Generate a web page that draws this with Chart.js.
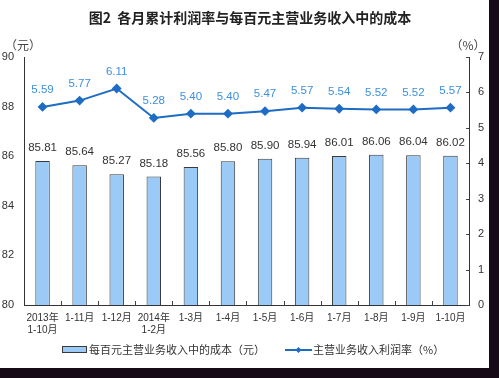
<!DOCTYPE html>
<html><head><meta charset="utf-8">
<script src="https://cdn.jsdelivr.net/npm/chart.js@4"></script>
<style>
html,body{margin:0;padding:0;background:#150a16;width:499px;height:378px;overflow:hidden}
#wrap{position:absolute;left:0;top:0;width:489px;height:368px;background:#fff}
</style></head><body>
<div id="wrap"><canvas id="c" width="489" height="368"></canvas></div>
<script>
const titleText = '图2  各月累计利润率与每百元主营业务收入中的成本';
const categories = [['2013年','1-10月'],'1-11月','1-12月',['2014年','1-2月'],'1-3月','1-4月','1-5月','1-6月','1-7月','1-8月','1-9月','1-10月'];
const costPerHundred = [85.81,85.64,85.27,85.18,85.56,85.80,85.90,85.94,86.01,86.06,86.04,86.02];
const profitRate = [5.59,5.77,6.11,5.28,5.40,5.40,5.47,5.57,5.54,5.52,5.52,5.57];
const costLabel = '每百元主营业务收入中的成本（元）';
const rateLabel = '主营业务收入利润率（%）';
const leftUnit = '（元）';
const rightUnit = '（%）';

const CJK = '"Liberation Sans","Noto Sans CJK SC",sans-serif';
const barFill = '#9ccaf7';
const barEdge = '#3a3a3a';
const lineColor = '#1e6cc4';
const rateTextColor = '#3d8fdc';

const extras = {
  id: 'extras',
  afterDatasetsDraw(chart) {
    const ctx = chart.ctx;
    ctx.save();
    ctx.textAlign = 'center';
    ctx.textBaseline = 'middle';
    ctx.font = '11.5px ' + CJK;
    ctx.fillStyle = '#333';
    chart.getDatasetMeta(1).data.forEach((el, i) => {
      ctx.fillText(costPerHundred[i].toFixed(2), el.x, el.y - 13);
    });
    ctx.fillStyle = rateTextColor;
    chart.getDatasetMeta(0).data.forEach((el, i) => {
      ctx.fillText(profitRate[i].toFixed(2), el.x, el.y - 17);
    });
    const xs = chart.scales.x, ca = chart.chartArea;
    ctx.strokeStyle = '#444'; ctx.lineWidth = 1;
    for (let i = 1; i < categories.length; i++) {
      const x = Math.round((xs.getPixelForValue(i - 1) + xs.getPixelForValue(i)) / 2) + 0.5;
      ctx.beginPath(); ctx.moveTo(x, ca.bottom); ctx.lineTo(x, ca.bottom - 4); ctx.stroke();
    }
    const yr = chart.scales.y1;
    yr.ticks.forEach(t => {
      const y = Math.round(yr.getPixelForValue(t.value)) + 0.5;
      ctx.beginPath(); ctx.moveTo(ca.right, y); ctx.lineTo(ca.right - 3, y); ctx.stroke();
    });
    ctx.restore();
  },
  afterDraw(chart) {
    const ctx = chart.ctx;
    ctx.save();
    ctx.fillStyle = '#222';
    ctx.textAlign = 'center'; ctx.textBaseline = 'middle';
    ctx.font = 'bold 14px "Noto Sans CJK SC",sans-serif';
    ctx.fillText(titleText, 250, 18);
    ctx.font = '12px "Noto Sans CJK SC",sans-serif';
    ctx.fillStyle = '#444';
    ctx.fillText(leftUnit, 23, 45);
    ctx.fillText(rightUnit, 468, 45);
    ctx.textAlign = 'left';
    ctx.font = '11px "Noto Sans CJK SC",sans-serif';
    ctx.fillStyle = barFill; ctx.fillRect(62, 347, 24, 5);
    ctx.strokeStyle = barEdge; ctx.lineWidth = 1; ctx.strokeRect(62.5, 346.5, 24, 6);
    ctx.fillStyle = '#333';
    ctx.fillText(costLabel, 89, 350);
    ctx.strokeStyle = lineColor; ctx.lineWidth = 2;
    ctx.beginPath(); ctx.moveTo(285, 350); ctx.lineTo(312, 350); ctx.stroke();
    ctx.fillStyle = lineColor;
    ctx.beginPath(); ctx.moveTo(298.5, 347); ctx.lineTo(301.5, 350); ctx.lineTo(298.5, 353); ctx.lineTo(295.5, 350); ctx.closePath(); ctx.fill();
    ctx.fillStyle = '#333';
    ctx.fillText(rateLabel, 313, 350);
    ctx.restore();
  }
};

new Chart(document.getElementById('c'), {
  data: {
    labels: categories,
    datasets: [
      { type: 'line', label: rateLabel, data: profitRate, yAxisID: 'y1', order: 0,
        borderColor: lineColor, backgroundColor: lineColor, borderWidth: 2,
        pointStyle: 'rectRot', pointRadius: 3.5, pointHoverRadius: 3.5, tension: 0 },
      { type: 'bar', label: costLabel, data: costPerHundred, yAxisID: 'y', order: 1,
        backgroundColor: barFill, borderColor: barEdge, borderWidth: 1,
        categoryPercentage: 1, barPercentage: 0.39 }
    ]
  },
  options: {
    responsive: false, animation: false, devicePixelRatio: 1,
    layout: { padding: { top: 57, left: 0, right: 0, bottom: 0 } },
    plugins: { legend: { display: false }, title: { display: false }, tooltip: { enabled: false } },
    scales: {
      x: {
        offset: true,
        grid: { display: false, drawTicks: false },
        border: { color: '#333', width: 1 },
        ticks: { color: '#333', font: { size: 10, family: CJK }, padding: 7, maxRotation: 0, autoSkip: false },
        afterFit(s) { s.height = 63; }
      },
      y: {
        position: 'left', min: 80, max: 90,
        grid: { display: false, drawTicks: false },
        border: { color: '#333', width: 1 },
        ticks: { stepSize: 2, color: '#333', font: { size: 11, family: CJK }, padding: 10 },
        afterFit(s) { s.width = 24; }
      },
      y1: {
        position: 'right', min: 0, max: 7,
        grid: { display: false, drawTicks: false },
        border: { color: '#333', width: 1 },
        ticks: { stepSize: 1, color: '#333', font: { size: 11, family: CJK }, padding: 9 },
        afterFit(s) { s.width = 20; }
      }
    }
  },
  plugins: [extras]
});
</script>
</body></html>
